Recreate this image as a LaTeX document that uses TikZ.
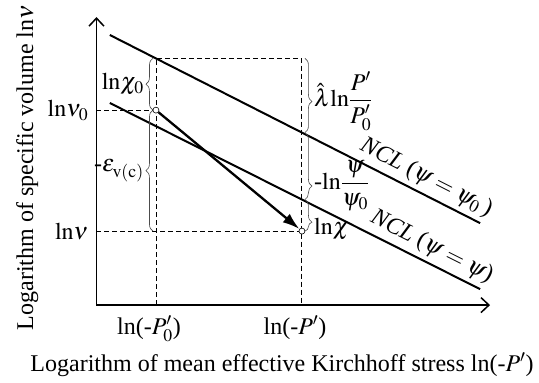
\documentclass[tikz,border=0pt]{standalone}
\usepackage{amsmath}
\usepackage{mathptmx}
\usepackage{fontspec}
\setmainfont{Liberation Serif}
\usetikzlibrary{positioning, arrows.meta, decorations.pathreplacing}

\begin{document}
\begin{tikzpicture}[font=\fontsize{24pt}{28pt}\selectfont, every node/.style={inner sep=2pt},
        axis/.style={line width=1.5pt, -{Straight Barb[length=8pt,width=15pt]}},
        ncl/.style={line width=2pt},
        guide/.style={line width=0.9pt, dash pattern=on 5pt off 3pt},
        gap/.style={draw=black!70, line width=0.6pt, decorate, decoration={brace, amplitude=7pt}},
        dot/.style={draw, circle, fill=white, inner sep=0pt, minimum size=6pt, line width=0.6pt}]
        \useasboundingbox (-3.39,-2.71) rectangle (15.55,10.72);

        \coordinate (origin) at (0,0);
        \coordinate (ytip) at (0,10.12);
        \coordinate (xtip) at (13.83,0);
        \coordinate (v0) at (0,6.85);
        \coordinate (v) at (0,2.60);
        \coordinate (p0) at (2.09,0);
        \coordinate (p) at (7.22,0);
        \coordinate (s) at (2.09,6.85);
        \coordinate (e) at (7.22,2.60);
        \coordinate (corner0) at (2.09,8.67);
        \coordinate (corner) at (7.22,8.67);
        \coordinate (cut) at (7.22,6.06);
        \coordinate (cutlow) at (7.22,3.71);
        \coordinate (low0) at (2.09,2.60);

        \draw[guide] (v0) -- (s);
        \draw[guide] (v) -- (e);
        \draw[guide] (p0) -- (corner0) -- (corner) -- (p);

        \draw[axis] (origin) -- (ytip);
        \draw[axis] (origin) -- (xtip);

        \draw[ncl] (0.47,9.49) -- (13.48,2.88) node[sloped, above=2pt, pos=0.835] {\textit{NCL} ($\psi=\psi_0$\,)};
        \draw[ncl] (0.47,7.10) -- (13.48,0.56) node[sloped, above=2pt, pos=0.85] {\textit{NCL} ($\psi=\psi$)};

        \draw[gap] ([xshift=-3pt]s) -- ([xshift=-3pt]corner0) node[midway, left=7pt] {$\mathrm{ln}\chi_0$};
        \draw[gap] ([xshift=-3pt]low0) -- ([xshift=-3pt]s) node[midway, left=7pt] {-$\varepsilon_{\mathrm{v(c)}}$};
        \draw[gap, decoration={aspect=0.58}] ([xshift=3pt]corner) -- ([xshift=3pt]cut) node[pos=0.58, right=7pt] {$\hat{\lambda}\mathrm{ln}\dfrac{P'}{P'_0}$};
        \draw[gap, decoration={aspect=0.8}] ([xshift=3pt]cut) -- ([xshift=3pt]cutlow) node[pos=0.8, right=7pt] {-$\mathrm{ln}\dfrac{\psi}{\psi_0}$};
        \draw[gap, decoration={aspect=0.72}] ([xshift=3pt]cutlow) -- ([xshift=3pt]e) node[pos=0.93, right=7pt] {$\mathrm{ln}\chi$};

        \node[dot] (start) at (s) {};
        \node[dot] (finish) at (e) {};
        \draw[line width=2.3pt, -{Latex[length=17pt,width=11pt]}] (start) -- (finish);

        \node (lnv0) [left=6pt of v0] {$\mathrm{ln}\nu_0$};
        \node (lnv) [left=6pt of v] {$\mathrm{ln}\nu$};
        \node (lnp0) [below=9pt of p0, xshift=-7pt] {ln(-$P'_0$)};
        \node (lnp) [below=9pt of p, xshift=-7pt] {ln(-$P'$)};

        \node (ylabel) [rotate=90, anchor=base] at (-2.23,4.83) {Logarithm of specific volume ln$\nu$};
        \node (xlabel) [anchor=base] at (6.52,-2.34) {Logarithm of mean effective Kirchhoff stress ln(-$P'$)};
    \end{tikzpicture}
\end{document}
